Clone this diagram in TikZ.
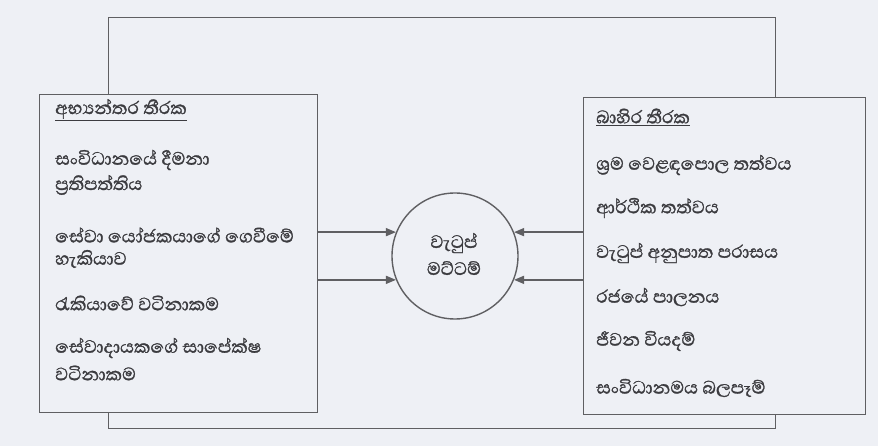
\documentclass[tikz,border=0pt]{standalone}
\usepackage{fontspec}
\newfontfamily\sinhalafont[Script=Sinhala, FakeBold=1.2]{Abhaya Libre}
\usetikzlibrary{arrows.meta}
\definecolor{bg}{RGB}{238,240,245}
\definecolor{ln}{RGB}{95,95,98}
\definecolor{tx}{RGB}{60,60,64}
\tikzset{
  boxshape/.style={draw=ln, line width=1.4pt, fill=bg, anchor=north west, inner sep=0pt},
  lbl/.style={anchor=west, inner sep=0pt, text=tx, font=\sinhalafont\fontsize{23}{26}\selectfont, align=left},
  arr/.style={draw=ln, line width=1.4pt, -{Triangle[length=10pt,width=8pt]}},
}
\begin{document}
\begin{tikzpicture}[x=1pt,y=-1pt]
\fill[bg] (0,0) rectangle (878,446);
\useasboundingbox (0,0) rectangle (878,446);
\node[boxshape, fill=none, minimum width=667pt, minimum height=411pt] (outer) at (108,17) {};
\node[boxshape, minimum width=278pt, minimum height=318pt] (L) at (39,94) {};
\node[boxshape, minimum width=282pt, minimum height=317pt] (R) at (583,97) {};
\node[draw=ln, line width=1.4pt, circle, minimum size=126pt, inner sep=0pt] (C) at (455,256) {};

\node[lbl] (lt) at (55,110) {\underline{අභ්‍යන්තර තීරක}};
\node[lbl] (l1) at (55,160) {සංවිධානයේ දීමනා};
\node[lbl] (l1b) at (55,185) {ප්‍රතිපත්තිය};
\node[lbl] (l2) at (55,235) {සේවා යෝජකයාගේ ගෙවීමේ};
\node[lbl] (l2b) at (55,259) {හැකියාව};
\node[lbl] (l3) at (55,303) {රැකියාවේ වටිනාකම};
\node[lbl] (l4) at (55,348) {සේවාදායකගේ සාපේක්ෂ};
\node[lbl] (l4b) at (55,373) {වටිනාකම};

\node[lbl] (rt) at (596,117) {\underline{බාහිර තීරක}};
\node[lbl] (r1) at (596,165) {ශ්‍රම වෙළඳපොල තත්වය};
\node[lbl] (r2) at (596,208) {ආර්ථික තත්වය};
\node[lbl] (r3) at (596,253) {වැටුප් අනුපාත පරාසය};
\node[lbl] (r4) at (596,297) {රජයේ පාලනය};
\node[lbl] (r5) at (596,341) {ජීවන වියදම්};
\node[lbl] (r6) at (596,388) {සංවිධානමය බලපෑම්};

\node[lbl, anchor=center, align=center] (ct) at (454,254) {වැටුප්\\[1pt]මට්ටම්};

\draw[arr] (L.east |- C.158) -- (C.158);
\draw[arr] (L.east |- C.202) -- (C.202);
\draw[arr] (R.west |- C.22) -- (C.22);
\draw[arr] (R.west |- C.-22) -- (C.-22);
\end{tikzpicture}
\end{document}
